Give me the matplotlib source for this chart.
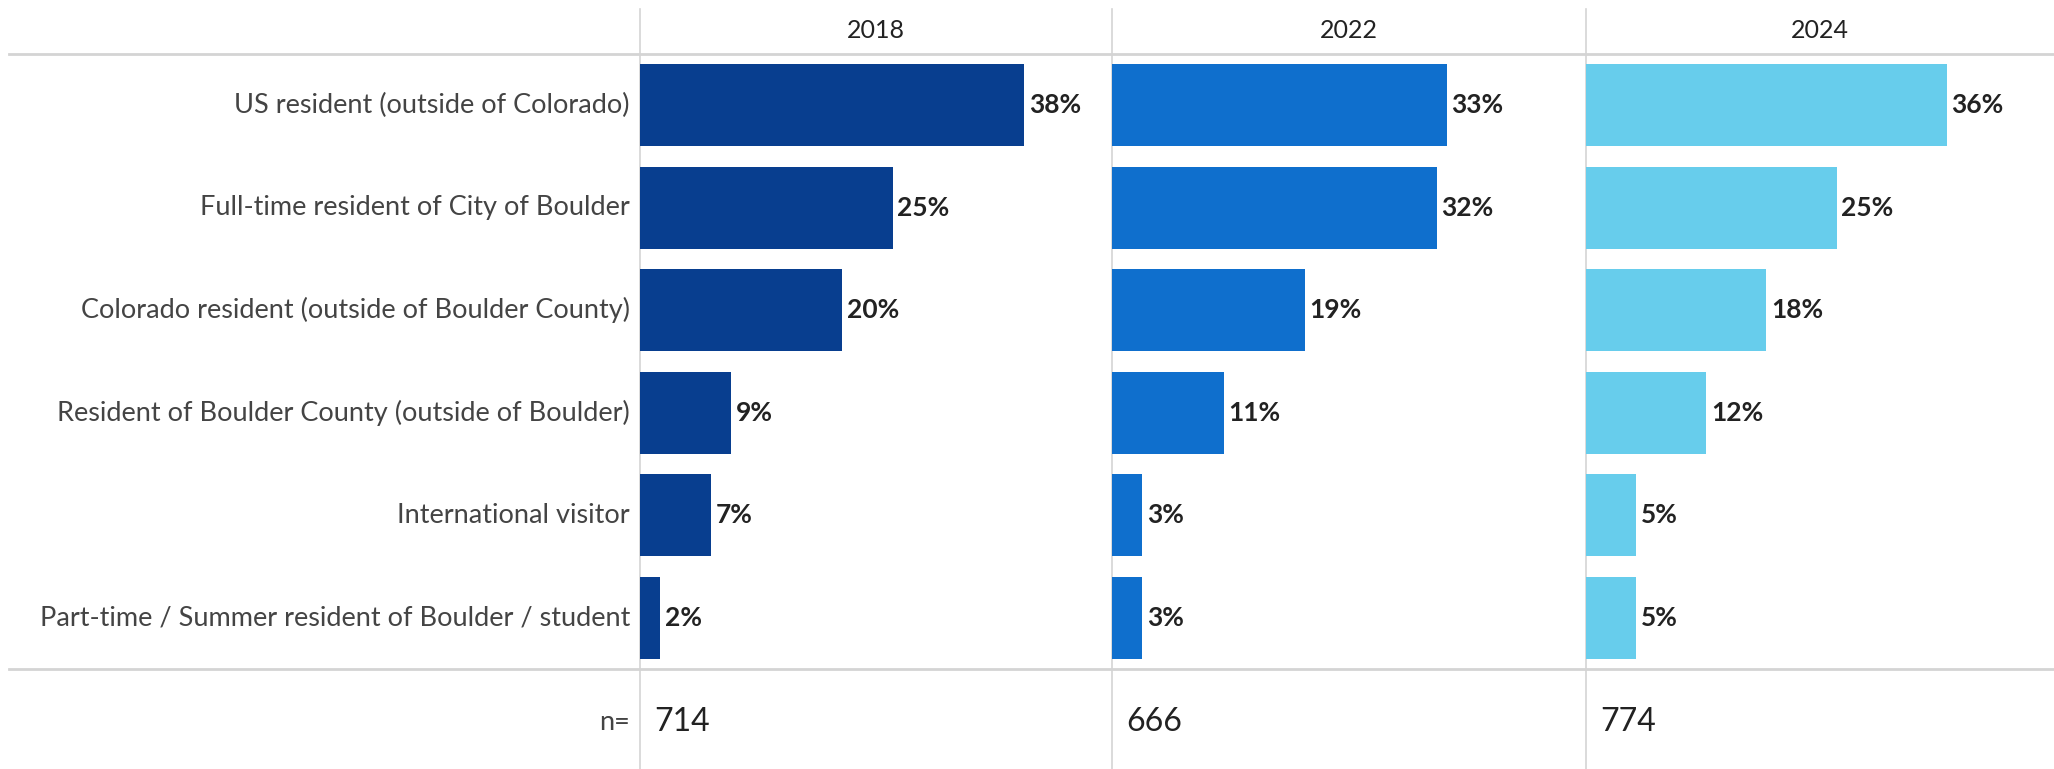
import matplotlib.pyplot as plt
from matplotlib.lines import Line2D

plt.rcParams['font.family'] = ['Lato', 'DejaVu Sans']

# Survey data: share of respondents by residency, per survey year
categories = [
    "US resident (outside of Colorado)",
    "Full-time resident of City of Boulder",
    "Colorado resident (outside of Boulder County)",
    "Resident of Boulder County (outside of Boulder)",
    "International visitor",
    "Part-time / Summer resident of Boulder / student",
]
years = ["2018", "2022", "2024"]
pct_2018 = [38, 25, 20, 9, 7, 2]
pct_2022 = [33, 32, 19, 11, 3, 3]
pct_2024 = [36, 25, 18, 12, 5, 5]
sample_sizes = [714, 666, 774]
colors = ["#083E8F", "#0F6FCD", "#67CDEC"]

W, H = 2054, 769
fig = plt.figure(figsize=(W / 100, H / 100), dpi=100)

# table frame in pixel units
bg = fig.add_axes([0, 0, 1, 1])
bg.set_xlim(0, W)
bg.set_ylim(H, 0)
bg.axis("off")

col_left = [640, 1112, 1586]
col_right = [1112, 1586, W]
header_y, body_top, body_bottom = 31, 54, 669
grid = "#d4d4d4"

for x in col_left:
    bg.add_line(Line2D([x, x], [9, H], color=grid, lw=1.2))
for y in (body_top, body_bottom):
    bg.add_line(Line2D([9, W], [y, y], color=grid, lw=2))

series = [pct_2018, pct_2022, pct_2024]
for i, (vals, year) in enumerate(zip(series, years)):
    x0, x1 = col_left[i], col_right[i]
    ax = fig.add_axes([x0 / W, (H - body_bottom) / H,
                       (x1 - x0) / W, (body_bottom - body_top) / H])
    ax.patch.set_alpha(0)
    ypos = range(len(categories))
    ax.barh(ypos, vals, height=0.8, color=colors[i])
    for y, v in zip(ypos, vals):
        ax.text(v + 0.45, y, f"{v}%", va="center", ha="left",
                fontsize=19, fontweight="bold", color="#222222")
    ax.set_xlim(0, 46.7)
    ax.set_ylim(len(categories) - 0.5, -0.5)
    ax.axis("off")

    # column header and sample size
    bg.text((x0 + x1) / 2, header_y, year, ha="center", va="center",
            fontsize=18, color="#222222")
    bg.text(x0 + 14, 722, str(sample_sizes[i]), ha="left", va="center",
            fontsize=23, color="#222222")

# row labels
row_h = (body_bottom - body_top) / len(categories)
for j, cat in enumerate(categories):
    bg.text(630, body_top + row_h * (j + 0.5), cat, ha="right", va="center",
            fontsize=19.5, color="#444444")
bg.text(630, 722, "n=", ha="right", va="center", fontsize=19.5, color="#444444")

fig.savefig("out.png", dpi=100)
